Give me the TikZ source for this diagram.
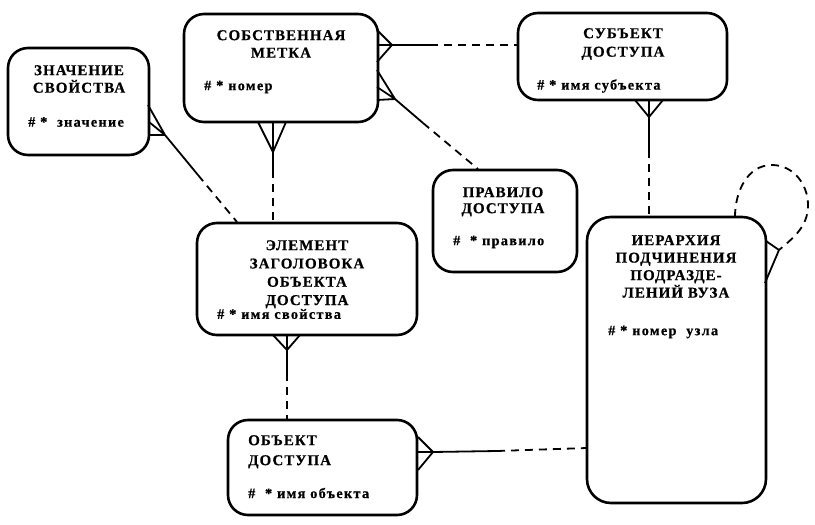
\documentclass[tikz,border=0pt]{standalone}
\usepackage{fontspec}
\setmainfont{Liberation Serif}
\newfontfamily\tfont{Liberation Serif}[LetterSpace=7,FakeBold=0.6]
\newfontfamily\afont{Liberation Serif}[LetterSpace=9,FakeBold=0.6]
\begin{document}
\begin{tikzpicture}[x=1pt,y=-1pt,
  box/.style={draw,line width=2.6pt,rounded corners=20pt,inner sep=0pt},
  ttl/.style={inner sep=0pt,align=center,anchor=north,font=\tfont\bfseries\fontsize{15}{17.5}\selectfont},
  attr/.style={inner sep=0pt,anchor=west,font=\afont\bfseries\fontsize{14.3}{16}\selectfont},
  rel/.style={line width=1.8pt},
  opt/.style={line width=1.8pt,dash pattern=on 8pt off 6pt},
]
\useasboundingbox (0,0) rectangle (815,525);
% boxes
\node[box,minimum width=141pt,minimum height=107pt] (zn) at (78.5,101.5) {};
\node[box,minimum width=194pt,minimum height=108pt] (sob) at (281,68) {};
\node[box,minimum width=209pt,minimum height=87pt] (sub) at (622.5,56.5) {};
\node[box,minimum width=144pt,minimum height=102pt] (pr) at (505,221) {};
\node[box,minimum width=179pt,minimum height=286pt,rounded corners=24pt] (ier) at (676.5,360) {};
\node[box,minimum width=220pt,minimum height=112pt] (el) at (307,279) {};
\node[box,minimum width=189pt,minimum height=95pt] (ob) at (322.5,467.5) {};
% titles
\node[ttl] (znt) at (79,65) {ЗНАЧЕНИЕ\\СВОЙСТВА};
\node[ttl] (sobt) at (281,30) {СОБСТВЕННАЯ\\МЕТКА};
\node[ttl,font=\tfont\bfseries\fontsize{15}{18.5}\selectfont] (subt) at (623,28) {СУБЪЕКТ\\ДОСТУПА};
\node[ttl,font=\tfont\bfseries\fontsize{15}{16}\selectfont] (prt) at (503,187) {ПРАВИЛО\\ДОСТУПА};
\node[ttl] (iert) at (676,235) {ИЕРАРХИЯ\\ПОДЧИНЕНИЯ\\ПОДРАЗДЕ-\\ЛЕНИЙ ВУЗА};
\node[ttl,font=\tfont\bfseries\fontsize{15}{18.3}\selectfont] (elt) at (307,240) {ЭЛЕМЕНТ\\ЗАГОЛОВОКА\\ОБЪЕКТА\\ДОСТУПА};
\node[ttl,anchor=north west,align=left,font=\tfont\bfseries\fontsize{15}{20}\selectfont] (obt) at (248,435) {ОБЪЕКТ\\ДОСТУПА};
% attributes
\node[attr] (zna) at (28,122) {\# *\ \ значение};
\node[attr] (soba) at (204,87) {\# * номер};
\node[attr] (suba) at (537,86) {\# * имя субъекта};
\node[attr] (pra) at (453,242) {\#\ \ * правило};
\node[attr] (iera) at (608,332) {\# * номер\ \ узла};
\node[attr] (ela) at (217,314) {\# * имя свойства};
\node[attr] (oba) at (248,493) {\#\ \ * имя объекта};
% zn -- el
\coordinate (a1) at (165,135);
\coordinate (m1) at (198,175);
\coordinate (e1) at (237,222);
\draw[rel] (a1) -- (148,105) (a1) -- (149,122) (a1) -- (149,135);
\draw[rel] (a1) -- (m1);
\draw[opt] (m1) -- (e1);
% sob -- sub
\coordinate (a2) at (392,45);
\coordinate (m2) at (430,45);
\coordinate (e2) at (sub.west |- a2);
\draw[rel] (a2) -- (377,30) (a2) -- (377,45) (a2) -- (377,62);
\draw[rel] (a2) -- (m2);
\draw[opt] (m2) -- (e2);
% sob -- pr
\coordinate (a3) at (395,99);
\coordinate (m3) at (423,123);
\coordinate (e3) at (478,169);
\draw[rel] (a3) -- (377,70) (a3) -- (377,87) (a3) -- (377,100);
\draw[rel] (a3) -- (m3);
\draw[opt] (m3) -- (e3);
% sob -- el
\coordinate (a4) at (273,152);
\coordinate (m4) at (273,170);
\coordinate (e4) at (el.north -| a4);
\draw[rel] (a4) -- (258,122) (a4) -- (273,122) (a4) -- (286,122);
\draw[rel] (a4) -- (m4);
\draw[opt] (m4) -- (e4);
% sub -- ier
\coordinate (a5) at (649,117);
\coordinate (m5) at (649,150);
\coordinate (e5) at (ier.north -| a5);
\draw[rel] (a5) -- (635,100) (a5) -- (649,100) (a5) -- (663,100);
\draw[rel] (a5) -- (m5);
\draw[opt] (m5) -- (e5);
% el -- ob
\coordinate (a6) at (287,350);
\coordinate (m6) at (287,373);
\coordinate (e6) at (ob.north -| a6);
\draw[rel] (a6) -- (273,335) (a6) -- (287,335) (a6) -- (300,335);
\draw[rel] (a6) -- (m6);
\draw[opt] (m6) -- (e6);
% ob -- ier
\coordinate (a7) at (433,452);
\coordinate (m7) at (497,451);
\coordinate (e7) at (587,448);
\draw[rel] (a7) -- (418,437) (a7) -- (418,452) (a7) -- (418,470);
\draw[rel] (a7) -- (m7);
\draw[opt] (m7) -- (e7);
% ier self
\coordinate (a8) at (779,250);
\coordinate (s8) at (735,217);
\draw[rel] (a8) -- (766,241) (a8) -- (765,283);
\draw[opt] (s8) to[out=90,in=180] (772,165) to[out=0,in=90] (808,205) to[out=-90,in=40] (a8);
\end{tikzpicture}
\end{document}
